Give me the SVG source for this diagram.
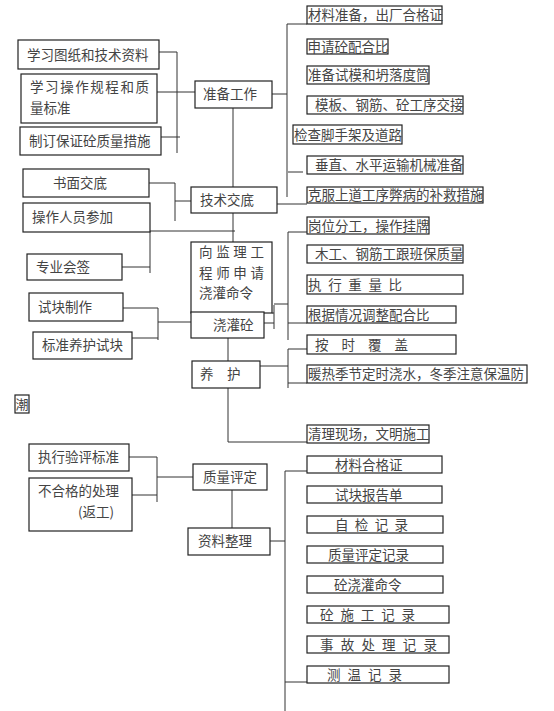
<svg xmlns="http://www.w3.org/2000/svg" width="554" height="711" viewBox="0 0 554 711">
<style>
.b{fill:#fff;stroke:#222;stroke-width:1.2}
.t{font-family:"Noto Sans CJK SC","Noto Sans",sans-serif;font-size:13.5px;fill:#444}
.c path{fill:none;stroke:#333;stroke-width:1}
</style>
<rect width="554" height="711" fill="#fff"/>
<g class="c" id="connectors">
<path d="M159,52H177M177,52V153M157,92H195M161,137H180"/>
<path d="M272,94H287M287,24V197M287,24H307M288,172H303M277,204H307"/>
<path d="M233,108V187M233,213V242M150,231H235"/>
<path d="M149,183H175M175,183V221M175,201H191M150,231V273M122,267H150"/>
<path d="M123,308H158M158,308V340M132,338H158M158,322H191"/>
<path d="M272,313H274M274,305V329M264,323H274M274,304H288M232,306V318"/>
<path d="M288,232V340M288,232H307M288,323H307"/>
<path d="M228,338V361M260,366H288M288,349V388M288,349H307M288,383H307M228,388V442H307"/>
<path d="M129,457H157M157,457V502M132,495H157M157,477H193M232,490V528"/>
<path d="M270,541H285M285,471V711M285,471H307M285,682H307"/>
</g>
<g id="n1"><rect class="b" x="18" y="40" width="141" height="29"/><text class="t" x="27" y="60">学习图纸和技术资料</text></g>
<g id="n2"><rect class="b" x="21" y="74" width="136" height="49"/><text class="t" x="30" y="92" textLength="119" lengthAdjust="spacing">学习操作规程和质</text><text class="t" x="30" y="112.5">量标准</text></g>
<g id="n3"><rect class="b" x="20" y="127" width="141" height="28"/><text class="t" x="29" y="146">制订保证砼质量措施</text></g>
<g id="n4"><rect class="b" x="195" y="81" width="77" height="27"/><text class="t" x="203" y="99">准备工作</text></g>
<g id="r1"><rect class="b" x="307" y="6" width="135" height="18"/><text class="t" x="308" y="20">材料准备，出厂合格证</text></g>
<g id="r2"><rect class="b" x="307" y="39" width="81" height="15"/><text class="t" x="307.5" y="51.5">申请砼配合比</text></g>
<g id="r3"><rect class="b" x="307" y="66" width="122" height="18"/><text class="t" x="308" y="80">准备试模和坍落度筒</text></g>
<g id="r4"><rect class="b" x="307" y="96" width="156" height="18"/><text class="t" x="315" y="110">模板、钢筋、砼工序交接</text></g>
<g id="r5"><rect class="b" x="293" y="125" width="109" height="19"/><text class="t" x="294" y="139.5">检查脚手架及道路</text></g>
<g id="r6"><rect class="b" x="307" y="156" width="156" height="18"/><text class="t" x="315" y="170">垂直、水平运输机械准备</text></g>
<g id="r7"><rect class="b" x="307" y="187" width="176" height="16"/><text class="t" x="308" y="200">克服上道工序弊病的补救措施</text></g>
<g id="n5"><rect class="b" x="23" y="169" width="126" height="28"/><text class="t" x="53" y="188">书面交底</text></g>
<g id="n6"><rect class="b" x="23" y="203" width="127" height="29"/><text class="t" x="32" y="222">操作人员参加</text></g>
<g id="n7"><rect class="b" x="27" y="254" width="95" height="26"/><text class="t" x="36" y="272">专业会签</text></g>
<g id="n8"><rect class="b" x="191" y="187" width="86" height="26"/><text class="t" x="200" y="205">技术交底</text></g>
<g id="n9"><rect class="b" x="191" y="242" width="81" height="71"/><text class="t" x="199" y="257" textLength="65" lengthAdjust="spacing">向监理工</text><text class="t" x="199" y="277.5" textLength="65" lengthAdjust="spacing">程师申请</text><text class="t" x="199" y="298">浇灌命令</text></g>
<g id="n10"><rect class="b" x="191" y="312" width="73" height="26"/><text class="t" x="213" y="330">浇灌砼</text></g>
<g id="n11"><rect class="b" x="29" y="293" width="94" height="28"/><text class="t" x="38" y="312">试块制作</text></g>
<g id="n12"><rect class="b" x="33" y="332" width="99" height="27"/><text class="t" x="42" y="350">标准养护试块</text></g>
<g id="s1"><rect class="b" x="307" y="217" width="122" height="17"/><text class="t" x="308" y="230.5">岗位分工，操作挂牌</text></g>
<g id="s2"><rect class="b" x="307" y="245" width="156" height="18"/><text class="t" x="315" y="259">木工、钢筋工跟班保质量</text></g>
<g id="s3"><rect class="b" x="307" y="275" width="156" height="19"/><text class="t" x="308" y="289.5" textLength="94" lengthAdjust="spacing">执行重量比</text></g>
<g id="s4"><rect class="b" x="307" y="306" width="149" height="17"/><text class="t" x="308" y="319.5">根据情况调整配合比</text></g>
<g id="n13"><rect class="b" x="192" y="361" width="68" height="27"/><text class="t" x="200" y="379">养　护</text></g>
<g id="u1"><rect class="b" x="307" y="335" width="149" height="19"/><text class="t" x="315" y="349.5" textLength="93" lengthAdjust="spacing">按时覆盖</text></g>
<g id="u2"><rect class="b" x="307" y="365" width="220" height="18"/><text class="t" x="308" y="379">暖热季节定时浇水，冬季注意保温防</text></g>
<g id="n14"><rect class="b" x="15" y="395" width="14" height="18"/><text class="t" x="15.5" y="409" style="font-size:13px">潮</text></g>
<g id="u3"><rect class="b" x="307" y="425" width="122" height="18"/><text class="t" x="308" y="439">清理现场，文明施工</text></g>
<g id="n15"><rect class="b" x="29" y="444" width="100" height="27"/><text class="t" x="38" y="462">执行验评标准</text></g>
<g id="n16"><rect class="b" x="29" y="478" width="103" height="53"/><text class="t" x="38" y="496">不合格的处理</text><text class="t" x="78" y="516.5">(返工)</text></g>
<g id="n17"><rect class="b" x="193" y="464" width="74" height="26"/><text class="t" x="203" y="482">质量评定</text></g>
<g id="n18"><rect class="b" x="188" y="528" width="82" height="27"/><text class="t" x="198" y="546">资料整理</text></g>
<g id="v1"><rect class="b" x="307" y="456" width="135" height="17"/><text class="t" x="335" y="469.5">材料合格证</text></g>
<g id="v2"><rect class="b" x="307" y="486" width="135" height="17"/><text class="t" x="335" y="499.5">试块报告单</text></g>
<g id="v3"><rect class="b" x="307" y="516" width="136" height="17"/><text class="t" x="335" y="529.5" textLength="73" lengthAdjust="spacing">自检记录</text></g>
<g id="v4"><rect class="b" x="307" y="546" width="136" height="17"/><text class="t" x="328" y="559.5">质量评定记录</text></g>
<g id="v5"><rect class="b" x="307" y="576" width="136" height="17"/><text class="t" x="334" y="589.5">砼浇灌命令</text></g>
<g id="v6"><rect class="b" x="307" y="606" width="142" height="17"/><text class="t" x="320" y="619.5" textLength="95" lengthAdjust="spacing">砼施工记录</text></g>
<g id="v7"><rect class="b" x="307" y="636" width="142" height="17"/><text class="t" x="320" y="649.5" textLength="117" lengthAdjust="spacing">事故处理记录</text></g>
<g id="v8"><rect class="b" x="307" y="666" width="142" height="17"/><text class="t" x="327" y="679.5" textLength="75" lengthAdjust="spacing">测温记录</text></g>
</svg>
